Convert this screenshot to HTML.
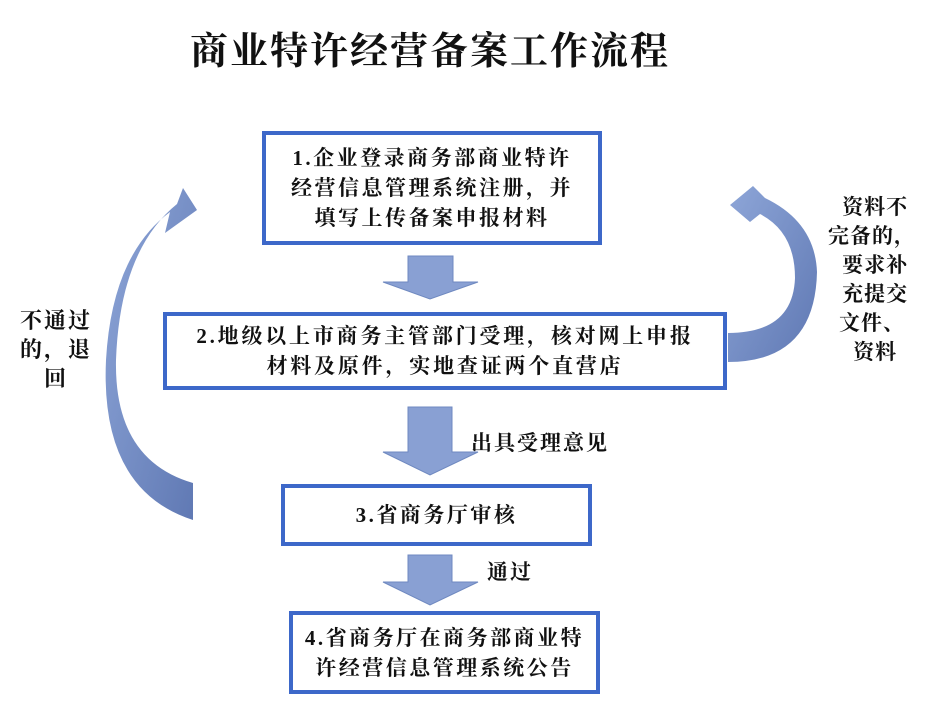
<!DOCTYPE html>
<html><head><meta charset="utf-8"><style>
body{margin:0;width:943px;height:726px;background:#fff;position:relative;overflow:hidden;font-family:"Liberation Serif","Noto Serif CJK SC",serif;font-weight:bold;color:#111}
.t{position:absolute;white-space:nowrap;line-height:1}
.box{position:absolute;border:4px solid #3d68c9;box-sizing:border-box;background:#fff;display:flex;align-items:center;justify-content:center;text-align:center;font-size:21px;line-height:30px;letter-spacing:2.5px}
</style></head><body>
<div class="t" style="left:190px;top:33px;font-size:38px;letter-spacing:2px;font-weight:bold">商业特许经营备案工作流程</div>

<svg width="943" height="726" style="position:absolute;left:0;top:0">
<defs><linearGradient id="g" x1="0" y1="0" x2="1" y2="1"><stop offset="0" stop-color="#8ea6d8"/><stop offset="1" stop-color="#5f78b3"/></linearGradient></defs>
<g fill="#89a0d3" stroke="#6f89c0" stroke-width="1">
<polygon points="408,256 453,256 453,282 478,282 430,299 383,282 408,282"/>
<polygon points="408,407 452,407 452,452 478,452 430,475 383,452 408,452"/>
<polygon points="408,555 452,555 452,582 478,582 430,605 383,582 408,582"/>
</g>
<path d="M193,520 Q100,490 106,360 Q112,255 170,212 L165,233 L197,210 L183,188 L177,204 Q120,250 116,360 Q114,460 193,483 Z" fill="url(#g)"/>
<path d="M728,362 Q815,362 817,272 Q815,222 765,198 L753,186 L730,205 L750,222 L760,214 Q795,232 795,278 Q793,333 728,333 Z" fill="url(#g)"/>
</svg>

<div class="box" style="left:262px;top:131px;width:340px;height:114px">1.企业登录商务部商业特许<br>经营信息管理系统注册，并<br>填写上传备案申报材料</div>
<div class="box" style="left:163px;top:312px;width:564px;height:78px;letter-spacing:2.8px">2.地级以上市商务主管部门受理，核对网上申报<br>材料及原件，实地查证两个直营店</div>
<div class="box" style="left:281px;top:484px;width:311px;height:62px">3.省商务厅审核</div>
<div class="box" style="left:289px;top:611px;width:311px;height:83px">4.省商务厅在商务部商业特<br>许经营信息管理系统公告</div>

<div class="t" style="left:471px;top:433px;font-size:21px;letter-spacing:2px">出具受理意见</div>
<div class="t" style="left:487px;top:562px;font-size:21px;letter-spacing:2px">通过</div>
<div class="t" style="left:18px;top:306px;font-size:22px;line-height:29px;text-align:center;width:76px;letter-spacing:2px">不通过<br>的，退<br>回</div>
<div class="t" style="left:822px;top:193px;font-size:21px;line-height:29px;text-align:center;width:100px;letter-spacing:1px">&nbsp;资料不<br>完备的，<br>&nbsp;要求补<br>&nbsp;充提交<br>文件、<br>&nbsp;资料</div>
</body></html>
